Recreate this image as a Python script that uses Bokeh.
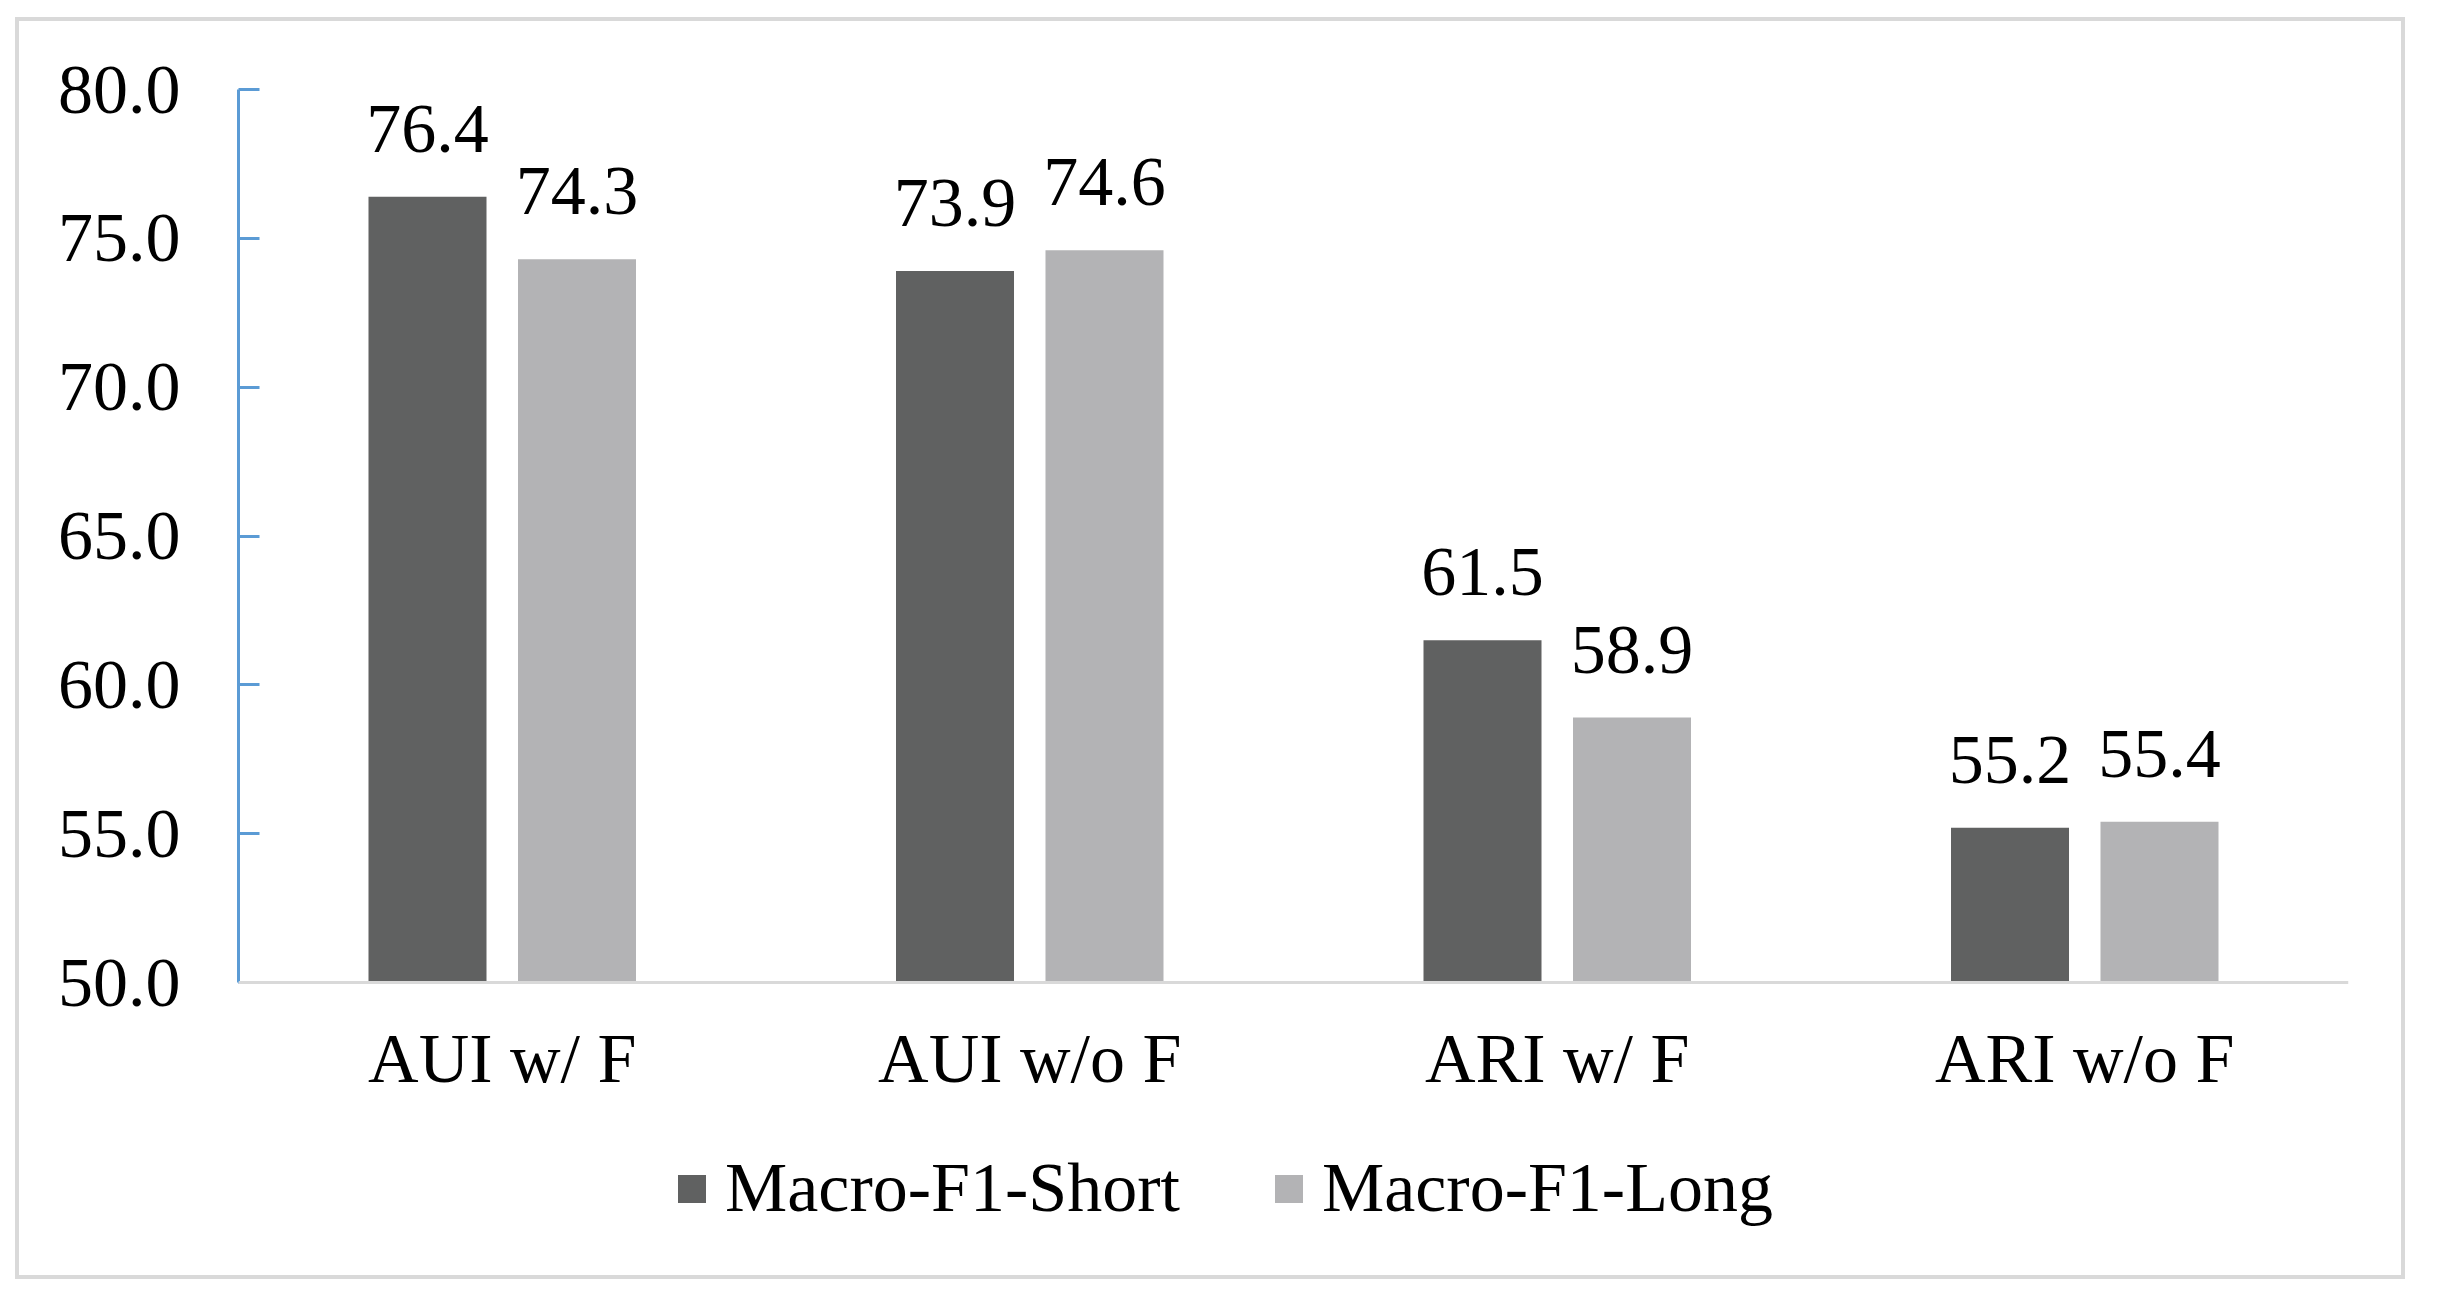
from bokeh.plotting import figure
from bokeh.models import (ColumnDataSource, Range1d, FactorRange, FixedTicker,
                          PrintfTickFormatter, Legend, LegendItem, Span, Spacer)
from bokeh.layouts import column, row
from bokeh.transform import dodge
from bokeh.core.properties import value
from bokeh.embed import file_html
from bokeh.resources import INLINE

categories = ["AUI w/ F", "AUI w/o F", "ARI w/ F", "ARI w/o F"]
macro_f1_short = [76.4, 73.9, 61.5, 55.2]
macro_f1_long = [74.3, 74.6, 58.9, 55.4]
series_names = ["Macro-F1-Short", "Macro-F1-Long"]
y_ticks = [50.0, 55.0, 60.0, 65.0, 70.0, 75.0, 80.0]
y_min, y_max = 50.0, 80.0

FONT = "Liberation Serif"
FS = "70px"
DARK = "#606161"
LIGHT = "#b3b3b5"

# layout (pixels)
W, H = 2390, 1262
ML, MR, MT, MB = 219, 61, 68, 23
AXIS_PX = 893          # height of the 50..80 value band in pixels
frame_h = H - MT - MB
ext = (frame_h - AXIS_PX) / AXIS_PX * (y_max - y_min)   # room below baseline for labels/legend

src = ColumnDataSource(dict(
    cat=categories,
    short=macro_f1_short,
    long=macro_f1_long,
    short_lbl=[f"{v:.1f}" for v in macro_f1_short],
    long_lbl=[f"{v:.1f}" for v in macro_f1_long],
    base=[y_min] * len(categories),
))

p = figure(
    x_range=FactorRange(*categories, range_padding=0),
    y_range=Range1d(y_min - ext, y_max),
    width=W, height=H,
    output_backend="svg", toolbar_location=None,
    min_border_left=ML, min_border_right=MR, min_border_top=MT, min_border_bottom=MB,
)
p.styles = {"border": "4px solid #d9d9d9"}
p.outline_line_color = None
p.xgrid.grid_line_color = None
p.ygrid.grid_line_color = None
p.xaxis.visible = False

off = 0.1417
bw = 0.2237
r1 = p.vbar(x=dodge("cat", -off, range=p.x_range), top="short", bottom=y_min, width=bw,
            source=src, fill_color=DARK, line_color=None)
r2 = p.vbar(x=dodge("cat", off, range=p.x_range), top="long", bottom=y_min, width=bw,
            source=src, fill_color=LIGHT, line_color=None)

# category baseline
p.add_layout(Span(location=y_min, dimension="width", line_color="#d9d9d9", line_width=3))

# value labels
for col, lbl, d in (("short", "short_lbl", -off), ("long", "long_lbl", off)):
    p.text(x=dodge("cat", d, range=p.x_range), y=col, text=lbl, source=src,
           text_font=value(FONT), text_font_size=FS, text_color="black",
           text_align="center", text_baseline="alphabetic", y_offset=-68)

# category labels
p.text(x="cat", y="base", text="cat", source=src,
       text_font=value(FONT), text_font_size=FS, text_color="black",
       text_align="center", text_baseline="alphabetic", y_offset=76)

# y axis
ya = p.yaxis[0]
ya.bounds = (y_min, y_max)
ya.ticker = FixedTicker(ticks=y_ticks)
ya.formatter = PrintfTickFormatter(format="%.1f")
ya.axis_line_color = "#5b9bd5"
ya.axis_line_width = 3
ya.major_tick_line_color = "#5b9bd5"
ya.major_tick_line_width = 3
ya.major_tick_in = 21
ya.major_tick_out = 0
ya.minor_tick_line_color = None
ya.major_label_standoff = 58
ya.major_label_text_font = FONT
ya.major_label_text_font_size = FS
ya.major_label_text_color = "black"

legend = Legend(
    items=[LegendItem(label=series_names[0], renderers=[r1]),
           LegendItem(label=series_names[1], renderers=[r2])],
    orientation="horizontal",
    location=(436, 32),
    glyph_width=35, glyph_height=35, label_standoff=16, spacing=91,
    padding=0, margin=0,
    label_text_font=FONT, label_text_font_size=FS, label_text_color="black",
    border_line_alpha=0, background_fill_alpha=0,
)
p.add_layout(legend)

layout = column(Spacer(width=10, height=17),
                row(Spacer(width=15, height=10), p, spacing=0),
                spacing=0)

open("out.html", "w").write(file_html(layout, INLINE))
